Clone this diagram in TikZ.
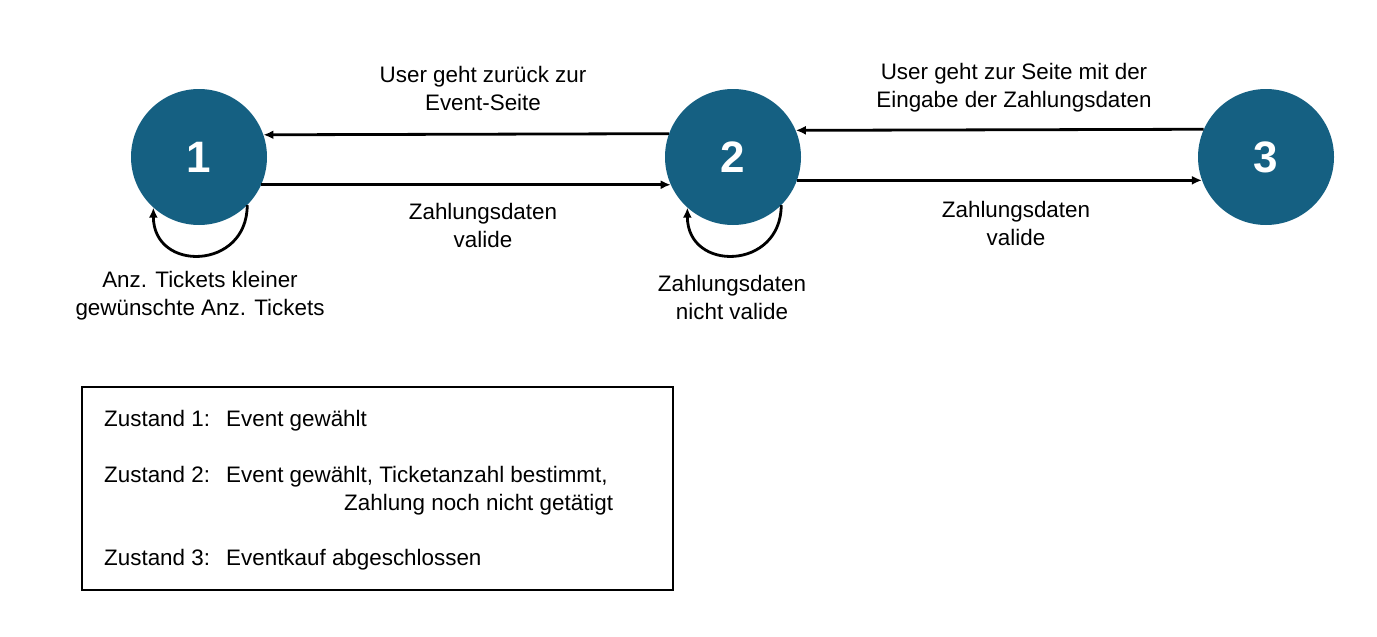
\documentclass[tikz,border=0pt]{standalone}
\usepackage{fontspec}
\setmainfont{Liberation Sans}
\usetikzlibrary{arrows.meta}
\definecolor{stateblue}{HTML}{156082}
\tikzset{
  state/.style={circle, fill=stateblue, minimum size=136pt, inner sep=0pt,
    text=white, font=\fontsize{44}{48}\selectfont\bfseries},
  lbl/.style={align=center, font=\fontsize{22.4}{28}\selectfont, inner sep=0pt},
  boxtxt/.style={anchor=base west, font=\fontsize{22.4}{28}\selectfont, inner sep=0pt},
  trans/.style={-{Latex[length=10pt,width=9pt]}, line width=2.8pt},
}
\begin{document}
\begin{tikzpicture}[x=1pt,y=-1pt]
\useasboundingbox (0,0) rectangle (1377,637);
\node[state] (n1) at (199,157) {1};
\node[state] (n2) at (733,157) {2};
\node[state] (n3) at (1266,157) {3};

\draw[trans] (n2.160.2) -- (n1.19.8);
\draw[trans] (n1.-24.3) -- (n2.204.3);
\draw[trans] (n3.156.6) -- (n2.23.4);
\draw[trans] (n2.-20.7) -- (n3.200.7);

\draw[trans] (n1.-45) .. controls +(0,65) and +(0,65) .. (n1.-132);
\draw[trans] (n2.-45) .. controls +(0,65) and +(0,65) .. (n2.-132);

\node[lbl] (l12) at (483,88) {User geht zurück zur\\Event-Seite};
\node[lbl] (l21) at (483,225) {Zahlungsdaten\\valide};
\node[lbl] (l23) at (1014,88) {User geht zur Seite mit der\\Eingabe der Zahlungsdaten};
\node[lbl] (l32) at (1016,223) {Zahlungsdaten\\valide};
\node[lbl] (l11) at (200,296) {Anz. Tickets kleiner\\gewünschte Anz. Tickets};
\node[lbl] (l22) at (732,297) {Zahlungsdaten\\nicht valide};

\node[draw, line width=1.5pt, minimum width=591pt, minimum height=203pt, anchor=north west, inner sep=0pt] (legend) at (81,386) {};
\node[boxtxt] (z1) at (104,426) {Zustand 1:};
\node[boxtxt] (e1) at (226,426) {Event gewählt};
\node[boxtxt] (z2) at (104,482) {Zustand 2:};
\node[boxtxt] (e2) at (226,482) {Event gewählt, Ticketanzahl bestimmt,};
\node[boxtxt] (e2b) at (344,510) {Zahlung noch nicht getätigt};
\node[boxtxt] (z3) at (104,565) {Zustand 3:};
\node[boxtxt] (e3) at (226,565) {Eventkauf abgeschlossen};
\end{tikzpicture}
\end{document}
